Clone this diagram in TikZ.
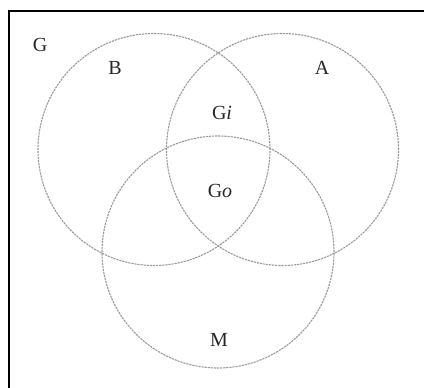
\documentclass[tikz,border=0pt]{standalone}
\usepackage{fontspec}
\setmainfont{Liberation Serif}
\usepackage{tikz}

\begin{document}
\begin{tikzpicture}[x=1pt, y=-1pt,
  setc/.style={circle, draw=black!40, line width=1.1pt,
    dash pattern=on 2.2pt off 0.9pt, minimum size=232pt, inner sep=0pt},
  lab/.style={font=\fontsize{20}{22}\selectfont, text=black!85, inner sep=0pt}]
\useasboundingbox (0,0) rectangle (424,388);
% frame (cut off at right and bottom)
\draw[line width=2.8pt] (9,390) |- (426,11);
% the three sets
\node[setc] (B) at (154,149.5) {};
\node[setc] (A) at (282.5,149.5) {};
\node[setc] (M) at (218,252) {};
% labels
\node[lab] (G) at (40,45) {G};
\node[lab] (Bl) at (115,68) {B};
\node[lab] (Al) at (322,68) {A};
\node[lab] (Gi) at (222,113) {G\textit{i}};
\node[lab] (Go) at (220,191) {G\textit{o}};
\node[lab] (Ml) at (219,340) {M};
\end{tikzpicture}
\end{document}
